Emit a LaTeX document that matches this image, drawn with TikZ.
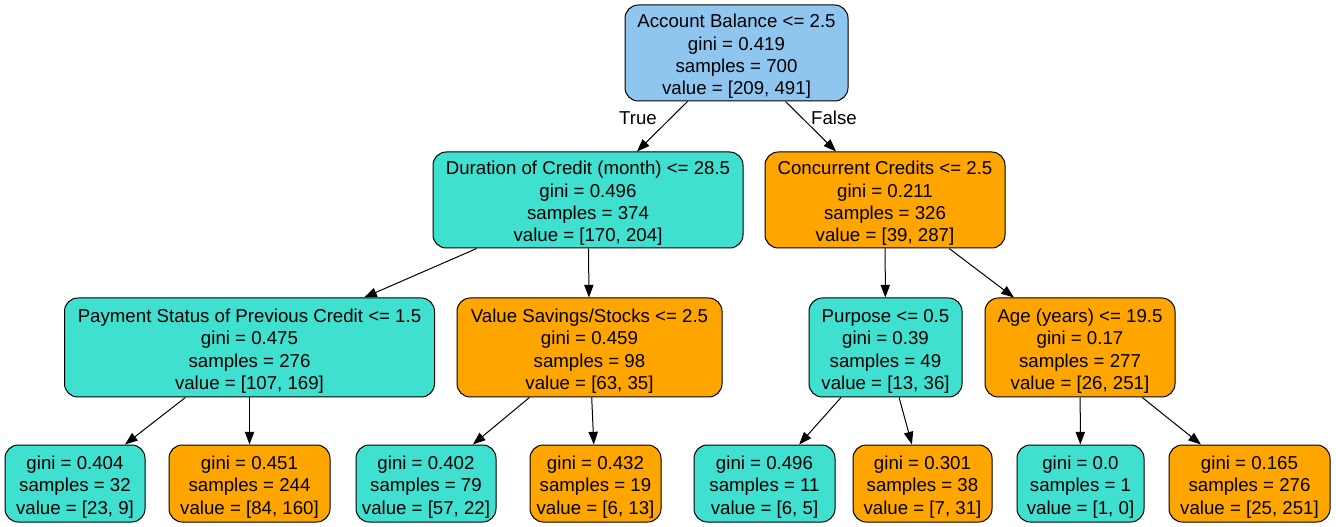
\documentclass[tikz,border=0pt]{standalone}
\usepackage{fontspec}
\setmainfont{Liberation Sans}
\usetikzlibrary{arrows.meta}
\definecolor{rootblue}{RGB}{142,198,240}
\definecolor{turq}{RGB}{64,224,208}
\definecolor{orng}{RGB}{255,165,0}
\newcommand{\tstrut}{\rule{0pt}{15.5pt}}
\begin{document}
\begin{tikzpicture}[x=0.75pt,y=-0.75pt,
  box/.style={draw=black, line width=0.75pt, rounded corners=10pt, align=center, inner sep=0pt,
    font=\fontsize{14}{16.8}\selectfont},
  wh/.style 2 args={minimum width={#1*0.75pt}, minimum height={#2*0.75pt}},
  edge/.style={draw=black, line width=0.75pt, -{Triangle[length=9.5pt,width=7pt]}},
  lbl/.style={font=\fontsize{14}{16.8}\selectfont, inner sep=0pt}]
\useasboundingbox (0,0) rectangle (1336,527);
\node[box, wh={223}{96}, fill=rootblue] (root) at (736.5,53) {\tstrut Account Balance <= 2.5\\gini = 0.419\\samples = 700\\value = [209, 491]};
\node[box, wh={310}{96}, fill=turq] (dur) at (588,200) {\tstrut Duration of Credit (month) <= 28.5\\gini = 0.496\\samples = 374\\value = [170, 204]};
\node[box, wh={240}{96}, fill=orng] (conc) at (885,200) {\tstrut Concurrent Credits <= 2.5\\gini = 0.211\\samples = 326\\value = [39, 287]};
\node[box, wh={370}{99}, fill=turq] (pay) at (249.5,347.5) {\tstrut Payment Status of Previous Credit <= 1.5\\gini = 0.475\\samples = 276\\value = [107, 169]};
\node[box, wh={265}{99}, fill=orng] (vs) at (589.5,347.5) {\tstrut Value Savings/Stocks <= 2.5\\gini = 0.459\\samples = 98\\value = [63, 35]};
\node[box, wh={153}{99}, fill=turq] (pur) at (885.5,347.5) {\tstrut Purpose <= 0.5\\gini = 0.39\\samples = 49\\value = [13, 36]};
\node[box, wh={190}{99}, fill=orng] (age) at (1080,347.5) {\tstrut Age (years) <= 19.5\\gini = 0.17\\samples = 277\\value = [26, 251]};
\node[box, wh={140}{77}, fill=turq] (l1) at (75,483.5) {\tstrut gini = 0.404\\samples = 32\\value = [23, 9]};
\node[box, wh={161}{77}, fill=orng] (l2) at (249.5,483.5) {\tstrut gini = 0.451\\samples = 244\\value = [84, 160]};
\node[box, wh={140}{77}, fill=turq] (l3) at (426,483.5) {\tstrut gini = 0.402\\samples = 79\\value = [57, 22]};
\node[box, wh={131}{77}, fill=orng] (l4) at (595.5,483.5) {\tstrut gini = 0.432\\samples = 19\\value = [6, 13]};
\node[box, wh={141}{77}, fill=turq] (l5) at (764.5,483.5) {\tstrut gini = 0.496\\samples = 11\\value = [6, 5]};
\node[box, wh={139}{77}, fill=orng] (l6) at (922.5,483.5) {\tstrut gini = 0.301\\samples = 38\\value = [7, 31]};
\node[box, wh={127}{77}, fill=turq] (l7) at (1080.5,483.5) {\tstrut gini = 0.0\\samples = 1\\value = [1, 0]};
\node[box, wh={161}{77}, fill=orng] (l8) at (1249.5,483.5) {\tstrut gini = 0.165\\samples = 276\\value = [25, 251]};
\node[lbl] (t) at (638,118) {True};
\node[lbl] (f) at (834,118) {False};
\draw[edge] (root) -- (dur);
\draw[edge] (root) -- (conc);
\draw[edge] (dur) -- (pay);
\draw[edge] (dur) -- (vs);
\draw[edge] (conc) -- (pur);
\draw[edge] (conc) -- (age);
\draw[edge] (pay) -- (l1);
\draw[edge] (pay) -- (l2);
\draw[edge] (vs) -- (l3);
\draw[edge] (vs) -- (l4);
\draw[edge] (pur) -- (l5);
\draw[edge] (pur) -- (l6);
\draw[edge] (age) -- (l7);
\draw[edge] (age) -- (l8);
\end{tikzpicture}
\end{document}
